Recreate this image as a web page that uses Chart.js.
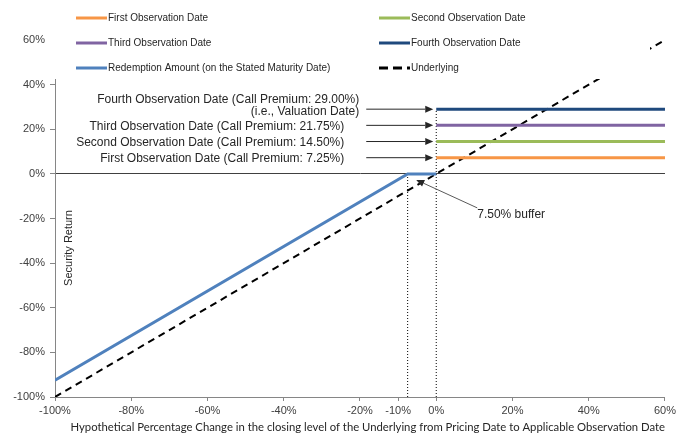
<!DOCTYPE html>
<html>
<head>
<meta charset="utf-8">
<script src="https://cdn.jsdelivr.net/npm/chart.js@4.4.0/dist/chart.umd.min.js"></script>
<style>
  body { margin: 0; background: #fff; }
  #wrap { width: 679px; height: 439px; }
</style>
</head>
<body>
<div id="wrap"><canvas id="chart" width="679" height="439"></canvas></div>
<script>
// values (all in %)
const xTicks = [-100, -80, -60, -40, -20, -10, 0, 20, 40, 60];
const yTicks = [-100, -80, -60, -40, -20, 0, 20, 40, 60];
const observationNames = ['First Observation Date', 'Second Observation Date', 'Third Observation Date', 'Fourth Observation Date'];
const callPremiums = [7.25, 14.5, 21.75, 29.0];
const observationX = [0, 60];
const redemptionX = [-100, -7.5, 0];
const redemptionY = [-92.5, 0, 0];
const underlyingX = [-100, 60];
const underlyingY = [-100, 60];
const bufferLevel = -7.5;
const bufferLabel = '7.50% buffer';

const obsColors = ['#F79646', '#9BBB59', '#8064A2', '#1F497D'];
const FONT = "'Liberation Sans', Arial, sans-serif";

function pts(xs, ys) {
  return xs.map((x, i) => ({ x: x, y: ys[i] }));
}

const datasets = observationNames.map((name, i) => ({
  label: name,
  data: pts(observationX, [callPremiums[i], callPremiums[i]]),
  borderColor: obsColors[i],
  borderWidth: 3,
}));
datasets.push({
  label: 'Redemption Amount (on the Stated Maturity Date)',
  data: pts(redemptionX, redemptionY),
  borderColor: '#4F81BD',
  borderWidth: 3,
});
datasets.push({
  label: 'Underlying',
  data: pts(underlyingX, underlyingY),
  borderColor: '#000000',
  borderWidth: 2,
  borderDash: [7, 5],
});
// dotted guide lines (not in legend)
datasets.push({
  label: '', hideInLegend: true,
  data: pts([bufferLevel, bufferLevel], [-100, 0]),
  borderColor: '#000000', borderWidth: 1, borderDash: [1, 2],
});
datasets.push({
  label: '', hideInLegend: true,
  data: pts([0, 0], [-100, callPremiums[3]]),
  borderColor: '#000000', borderWidth: 1, borderDash: [1, 2],
});

function arrow(ctx, x1, y1, x2, y2) {
  const a = Math.atan2(y2 - y1, x2 - x1);
  const len = 8, w = 3.5;
  ctx.beginPath();
  ctx.moveTo(x1, y1);
  ctx.lineTo(x2 - Math.cos(a) * len, y2 - Math.sin(a) * len);
  ctx.stroke();
  ctx.beginPath();
  ctx.moveTo(x2, y2);
  ctx.lineTo(x2 - Math.cos(a) * len - Math.sin(a) * w, y2 - Math.sin(a) * len + Math.cos(a) * w);
  ctx.lineTo(x2 - Math.cos(a) * len + Math.sin(a) * w, y2 - Math.sin(a) * len - Math.cos(a) * w);
  ctx.closePath();
  ctx.fill();
}

const overlay = {
  id: 'overlay',
  afterDatasetsDraw(chart) {
    const ctx = chart.ctx;
    const xs = chart.scales.x, ys = chart.scales.y;
    const x0 = xs.getPixelForValue(0), y0 = ys.getPixelForValue(0);
    ctx.save();

    // call premium annotations
    ctx.font = '12px ' + FONT;
    ctx.fillStyle = '#262626';
    ctx.strokeStyle = '#262626';
    ctx.lineWidth = 1;
    ctx.textAlign = 'right';
    ctx.textBaseline = 'middle';
    callPremiums.forEach((p, i) => {
      const py = ys.getPixelForValue(p);
      const label = observationNames[i] + ' (Call Premium: ' + p.toFixed(2) + '%)';
      if (i === 3) {
        ctx.fillText(label, x0 - 77, py - 9);
        ctx.fillText('(i.e., Valuation Date)', x0 - 77, py + 3);
      } else {
        ctx.fillText(label, x0 - 92, py + 1);
      }
      arrow(ctx, x0 - 70, py, x0 - 3, py);
    });

    // buffer annotation
    ctx.strokeStyle = '#595959';
    ctx.fillStyle = '#262626';
    arrow(ctx, x0 + 41, y0 + 34, x0 - 20, y0 + 6);
    ctx.textAlign = 'left';
    ctx.fillText(bufferLabel, x0 + 41, y0 + 41);

    // y axis title inside plot
    ctx.save();
    ctx.translate(chart.chartArea.left + 14, 248);
    ctx.rotate(-Math.PI / 2);
    ctx.textAlign = 'center';
    ctx.font = '11px ' + FONT;
    ctx.fillText('Security Return', 0, 0);
    ctx.restore();

    // legend on a white panel over the top of the plot
    ctx.fillStyle = '#ffffff';
    ctx.fillRect(50, 0, 600, 79);
    const cols = [76, 379], rows = [18, 43, 68];
    ctx.font = '10px ' + FONT;
    ctx.textAlign = 'left';
    chart.data.datasets.forEach((ds, i) => {
      if (ds.hideInLegend) return;
      const lx = cols[i % 2], ly = rows[Math.floor(i / 2)];
      ctx.strokeStyle = ds.borderColor;
      ctx.lineWidth = 3;
      ctx.setLineDash(ds.borderDash ? [9, 5] : []);
      ctx.beginPath();
      ctx.moveTo(lx, ly);
      ctx.lineTo(lx + 31, ly);
      ctx.stroke();
      ctx.setLineDash([]);
      ctx.fillStyle = '#262626';
      ctx.fillText(ds.label, lx + 32, ly);
    });
    ctx.restore();
  }
};

new Chart(document.getElementById('chart'), {
  type: 'line',
  data: { datasets: datasets },
  options: {
    responsive: false,
    animation: false,
    devicePixelRatio: 1,
    layout: { padding: { top: 40, right: 13, left: 0, bottom: 0 } },
    elements: { point: { radius: 0 }, line: { tension: 0 } },
    plugins: { legend: { display: false }, tooltip: { enabled: false } },
    scales: {
      x: {
        type: 'linear',
        min: -100,
        max: 60,
        afterBuildTicks: (s) => { s.ticks = xTicks.map(v => ({ value: v })); },
        afterFit: (s) => { s.height = 42; },
        grid: { drawOnChartArea: false, drawTicks: true, tickLength: 4, color: '#868686' },
        border: { color: '#868686' },
        ticks: {
          font: { family: FONT, size: 11 }, color: '#404040', padding: 3,
          maxRotation: 0, autoSkip: false,
          callback: (v) => v + '%'
        },
        title: {
          display: true,
          align: 'end',
          text: 'Hypothetical Percentage Change in the closing level of the Underlying from Pricing Date to Applicable Observation Date',
          font: { family: 'Lato', size: 11.3 },
          color: '#262626',
          padding: { top: 2, bottom: 5 }
        }
      },
      y: {
        type: 'linear',
        min: -100,
        max: 60,
        afterBuildTicks: (s) => { s.ticks = yTicks.map(v => ({ value: v })); },
        afterFit: (s) => { s.width = 55; },
        grid: {
          drawTicks: true, tickLength: 5,
          color: (c) => (c.tick && c.tick.value === 0) ? '#404040' : 'rgba(0,0,0,0)',
          tickColor: '#868686'
        },
        border: { color: '#868686' },
        ticks: {
          font: { family: FONT, size: 11 }, color: '#404040', padding: 5,
          callback: (v) => v + '%'
        }
      }
    }
  },
  plugins: [overlay]
});
</script>
</body>
</html>
